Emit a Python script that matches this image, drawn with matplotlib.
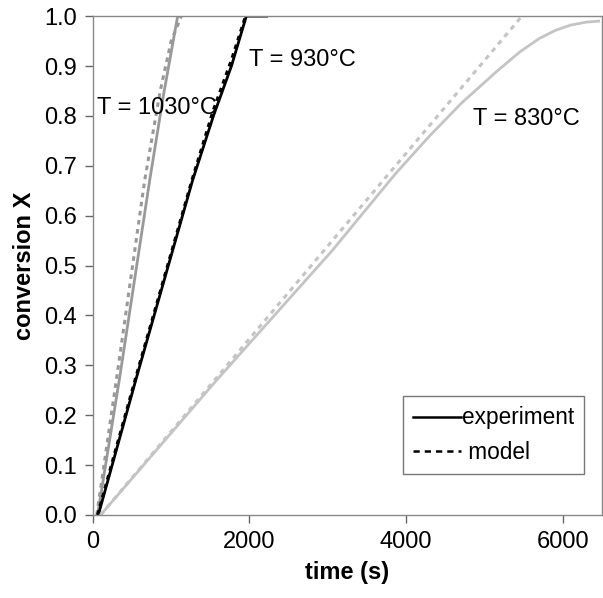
import numpy as np
import matplotlib
matplotlib.use('Agg')
import matplotlib.pyplot as plt
from matplotlib.lines import Line2D

plt.rcParams['font.family'] = ['Liberation Sans', 'DejaVu Sans']

# T = 1030 C
t_1030_exp = [60, 344, 726, 900, 1083]
x_1030_exp = [0.0, 0.277, 0.671, 0.84, 1.0]
t_1030_mod = [50, 318, 662, 860, 1000, 1130]
x_1030_mod = [0.0, 0.29, 0.671, 0.85, 0.95, 1.0]

# T = 930 C
t_930_exp = [70, 560, 1274, 1540, 1770, 1960, 2220]
x_930_exp = [0.0, 0.277, 0.671, 0.80, 0.90, 1.0, 1.0]
t_930_mod = [60, 550, 1265, 1535, 1765, 1950]
x_930_mod = [0.0, 0.277, 0.671, 0.81, 0.91, 1.0]

# T = 830 C
t_830_exp = [100, 1580, 3057, 3870, 4290, 4710, 5150, 5450, 5700, 5900, 6100, 6300, 6460]
x_830_exp = [0.0, 0.27, 0.53, 0.685, 0.758, 0.826, 0.888, 0.928, 0.955, 0.971, 0.982, 0.988, 0.99]
t_830_mod = [100, 5480]
x_830_mod = [0.0, 1.0]

fig = plt.figure(figsize=(6.03, 5.98), dpi=100)
ax = fig.add_axes([0.154, 0.139, 0.844, 0.834])

lw = 2.0
ax.plot(t_1030_exp, x_1030_exp, color='#999999', lw=lw)
ax.plot(t_1030_mod, x_1030_mod, color='#999999', lw=2.2, dashes=(1.5, 1.5))
ax.plot(t_930_exp, x_930_exp, color='black', lw=lw)
ax.plot(t_930_mod, x_930_mod, color='black', lw=2.2, dashes=(1.5, 1.5))
ax.plot(t_830_exp, x_830_exp, color='#c4c4c4', lw=lw)
ax.plot(t_830_mod, x_830_mod, color='#c4c4c4', lw=2.2, dashes=(1.6, 1.6))

ax.text(50, 0.816, 'T = 1030°C', fontsize=17, va='center', ha='left')
ax.text(2000, 0.912, 'T = 930°C', fontsize=17, va='center', ha='left')
ax.text(4850, 0.794, 'T = 830°C', fontsize=17, va='center', ha='left')

ax.set_xlim(0, 6500)
ax.set_ylim(0, 1.0)
ax.set_xticks([0, 2000, 4000, 6000])
ax.set_yticks(np.arange(0, 1.01, 0.1))
ax.set_yticklabels([f'{v:.1f}' for v in np.arange(0, 1.01, 0.1)])
ax.tick_params(direction='out', length=5.5, width=1, color='#666666',
               labelsize=17, pad=6)
for s in ax.spines.values():
    s.set_color('#888888')
    s.set_linewidth(1)

ax.set_xlabel('time (s)', fontsize=17, fontweight='bold', labelpad=6)
ax.set_ylabel('conversion X', fontsize=17, fontweight='bold', labelpad=6)

handles = [Line2D([], [], color='black', lw=1.8),
           Line2D([], [], color='black', lw=1.8, dashes=(2.5, 2))]
leg = ax.legend(handles, ['experiment', ' model'], loc='lower left',
                bbox_to_anchor=(0.609, 0.082), fontsize=16.3, frameon=True,
                fancybox=False, handlelength=2.1, handletextpad=0.05,
                borderpad=0.45, labelspacing=0.5, borderaxespad=0)
leg.get_frame().set_edgecolor('#555555')
leg.get_frame().set_linewidth(1)

fig.savefig('out.png', dpi=100)
